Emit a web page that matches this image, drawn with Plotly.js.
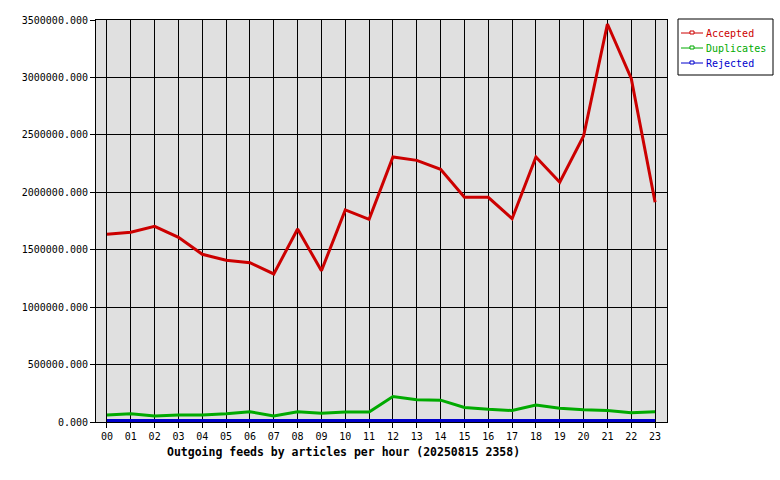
<!DOCTYPE html>
<html>
<head>
<meta charset="utf-8">
<script src="https://cdn.plot.ly/plotly-3.0.1.min.js"></script>
<style>html,body{margin:0;padding:0;background:#fff;}#chart{width:780px;height:480px;}</style>
</head>
<body>
<div id="chart"></div>
<script>
const hours = ["00","01","02","03","04","05","06","07","08","09","10","11","12","13","14","15","16","17","18","19","20","21","22","23"];
const accepted = [1634000,1652000,1704000,1608000,1460000,1408000,1387000,1289000,1680000,1317000,1846000,1765000,2307000,2278000,2200000,1956000,1956000,1770000,2307000,2087000,2490000,3465000,2992000,1913000];
const duplicates = [61000,71000,52000,61000,61000,71000,90000,52000,90000,77000,87000,87000,222000,193000,190000,126000,110000,100000,148000,119000,106000,100000,81000,90000];
const rejected = [12000,12000,12000,12000,12000,12000,12000,12000,12000,12000,12000,12000,12000,12000,12000,12000,12000,12000,12000,12000,12000,12000,12000,12000];
const yTicks = [0,500000,1000000,1500000,2000000,2500000,3000000,3500000];
const seriesNames = ["Accepted","Duplicates","Rejected"];
const seriesColors = ["#cc0000","#00aa00","#0000cc"];
const chartTitle = "Outgoing feeds by articles per hour (20250815 2358)";

const mono = "DejaVu Sans Mono, Liberation Mono, monospace";
const seriesData = [accepted, duplicates, rejected];
const traces = seriesData.map((d, i) => ({x: hours, y: d, name: seriesNames[i], mode: 'lines', line: {color: seriesColors[i], width: 3}}));

// custom legend (paper coords: px -> (px-96)/571, py -> (422-py)/402)
const px = p => (p - 96) / 571;
const py = p => (422 - p) / 402;
const shapes = [{type: 'rect', xref: 'paper', yref: 'paper', x0: px(678), x1: px(773), y0: py(75), y1: py(19), line: {color: '#000', width: 1}, fillcolor: '#fff'}];
const annotations = [{text: '<b>' + chartTitle + '</b>', xref: 'paper', yref: 'paper', x: px(165), y: py(452), xanchor: 'left', yanchor: 'middle', showarrow: false, font: {family: mono, size: 11.5, color: '#000'}}];
seriesNames.forEach((n, i) => {
  const yy = 33 + 15 * i;
  shapes.push({type: 'line', xref: 'paper', yref: 'paper', x0: px(681), x1: px(703), y0: py(yy), y1: py(yy), line: {color: seriesColors[i], width: 1}});
  shapes.push({type: 'rect', xref: 'paper', yref: 'paper', x0: px(690), x1: px(694), y0: py(yy + 1), y1: py(yy - 2), line: {color: seriesColors[i], width: 1}, fillcolor: '#fff'});
  annotations.push({text: n, xref: 'paper', yref: 'paper', x: px(704), y: py(yy), xanchor: 'left', yanchor: 'middle', showarrow: false, font: {family: mono, size: 10, color: seriesColors[i]}});
});

const layout = {
  width: 780, height: 480,
  margin: {l: 96, r: 113, t: 20, b: 58, pad: 0, autoexpand: false},
  paper_bgcolor: '#ffffff', plot_bgcolor: '#e0e0e0',
  font: {family: mono, size: 10, color: '#000'},
  showlegend: false,
  xaxis: {type: 'category', range: [-0.46, 23.5], showgrid: true, gridcolor: '#000', gridwidth: 1,
          showline: true, linecolor: '#000', linewidth: 1, mirror: true, ticks: 'outside', ticklen: 5, tickcolor: '#000',
          tickfont: {family: mono, size: 10}, zeroline: false, fixedrange: true},
  yaxis: {range: [0, 3500000], tickvals: yTicks, tickformat: '.3f', showgrid: true, gridcolor: '#000', gridwidth: 1,
          showline: true, linecolor: '#000', linewidth: 1, mirror: true, ticks: 'outside', ticklen: 5, tickcolor: '#000',
          tickfont: {family: mono, size: 10}, zeroline: false, fixedrange: true},
  shapes: shapes,
  annotations: annotations
};
Plotly.newPlot('chart', traces, layout, {staticPlot: true, displayModeBar: false});
</script>
</body>
</html>
